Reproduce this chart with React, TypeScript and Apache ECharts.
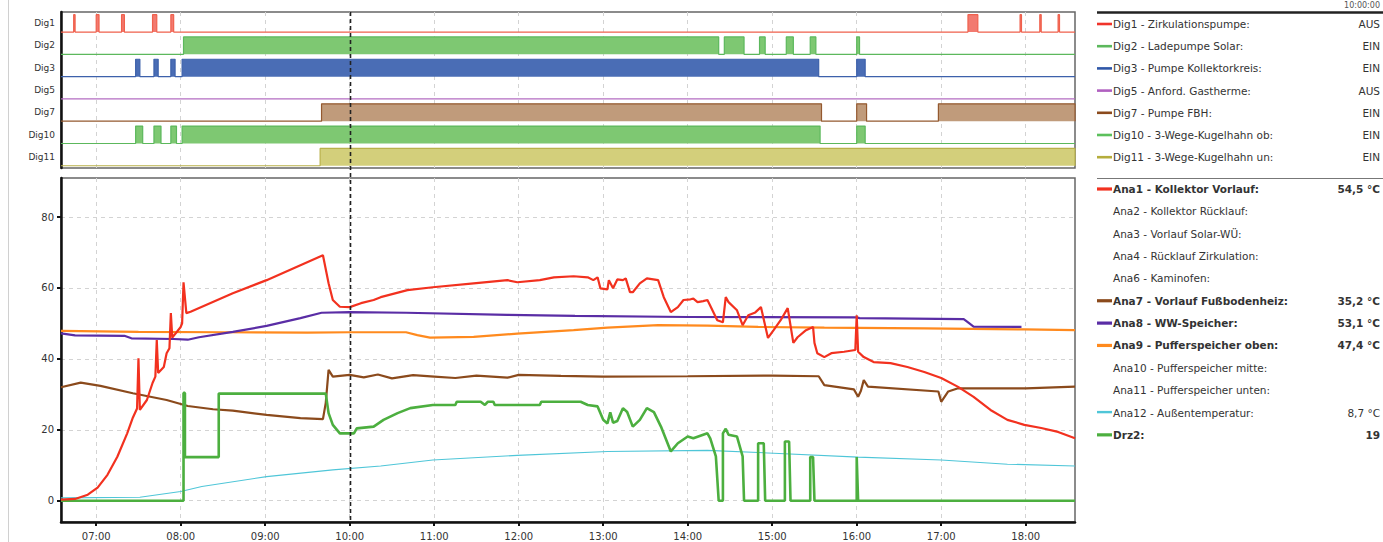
import React, { useEffect, useRef } from "react";
import * as echarts from "echarts";

// ---------- axis setup ----------
const X_START = "06:35";
const X_END = "18:35";
const HOUR_TICKS = [7, 8, 9, 10, 11, 12, 13, 14, 15, 16, 17, 18];
const Y_TICKS = [0, 20, 40, 60, 80];
const Y_MIN = -6;
const Y_MAX = 91;
const CURSOR_TIME = "10:00";
const CURSOR_LABEL = "10:00:00";

// ---------- digital channels ----------
const digNames = ["Dig1", "Dig2", "Dig3", "Dig5", "Dig7", "Dig10", "Dig11"];
const digLegend = [
  "Dig1 - Zirkulationspumpe:",
  "Dig2 - Ladepumpe Solar:",
  "Dig3 - Pumpe Kollektorkreis:",
  "Dig5 - Anford. Gastherme:",
  "Dig7 - Pumpe FBH:",
  "Dig10 - 3-Wege-Kugelhahn ob:",
  "Dig11 - 3-Wege-Kugelhahn un:",
];
const digStates = ["AUS", "EIN", "EIN", "AUS", "EIN", "EIN", "EIN"];

const dig1On = [["06:44", "06:45"], ["07:00", "07:02"], ["07:18", "07:20"], ["07:40", "07:43"], ["07:53", "07:55"], ["17:19", "17:26"], ["17:56", "17:57"], ["18:10", "18:11"], ["18:23", "18:24"]];
const dig2On = [["08:02", "14:22"], ["14:26", "14:40"], ["14:51", "14:55"], ["15:10", "15:15"], ["15:27", "15:31"], ["16:00", "16:02"]];
const dig3On = [["07:28", "07:31"], ["07:41", "07:44"], ["07:53", "07:56"], ["08:01", "15:33"], ["16:00", "16:06"]];
const dig5On: string[][] = [];
const dig7On = [["09:40", "15:35"], ["16:00", "16:07"], ["16:58", "18:35"]];
const dig10On = [["07:28", "07:33"], ["07:41", "07:46"], ["07:53", "07:57"], ["08:01", "15:34"], ["16:00", "16:06"]];
const dig11On = [["09:39", "18:35"]];

// ---------- analog channels ----------
const ana1: [string, number][] = [
  ["06:35", 0.3], ["06:45", 0.5], ["06:54", 1.7], ["07:01", 3.7], ["07:08", 7.3], ["07:15", 12.4], ["07:22", 19], ["07:26", 23.4],
  ["07:29", 26], ["07:30", 40.2], ["07:31", 25.6], ["07:36", 28.4], ["07:40", 33.2], ["07:42", 35], ["07:43", 45.3], ["07:44", 36],
  ["07:48", 37.7], ["07:50", 41.6], ["07:52", 43], ["07:53", 52.9], ["07:54", 46], ["08:00", 49], ["08:01", 50], ["08:02", 61.6],
  ["08:04", 52.9], ["08:07", 53.3], ["08:37", 58.5], ["09:01", 62.2], ["09:25", 66.4], ["09:41", 69.2], ["09:45", 61.3], ["09:48", 56.6],
  ["09:53", 54.7], ["10:00", 54.6], ["10:08", 55.7], ["10:17", 56.6], ["10:22", 57.4], ["10:41", 59.4], ["10:59", 60.2], ["11:28", 61.3],
  ["11:52", 62.2], ["11:59", 61.6], ["12:15", 62.2], ["12:25", 63], ["12:39", 63.3], ["12:49", 63], ["12:53", 62.2], ["12:56", 63],
  ["12:58", 59.9], ["13:03", 59.6], ["13:04", 62.2], ["13:07", 59.9], ["13:10", 62.4], ["13:14", 62.2], ["13:16", 62.7], ["13:19", 58.8],
  ["13:21", 58.8], ["13:26", 61.3], ["13:31", 62.7], ["13:39", 62.2], ["13:43", 57.4], ["13:48", 53.2], ["13:53", 54.6], ["13:57", 56.6],
  ["14:02", 56.8], ["14:04", 57], ["14:07", 56], ["14:11", 56.3], ["14:14", 56.6], ["14:16", 55], ["14:21", 50.9], ["14:25", 50.3],
  ["14:27", 57.4], ["14:29", 56], ["14:35", 53.7], ["14:39", 49.5], ["14:43", 52.3], ["14:48", 53.1], ["14:52", 54.6], ["14:57", 45.9],
  ["15:01", 48.1], ["15:06", 50.9], ["15:11", 54.3], ["15:15", 44.5], ["15:18", 46.1], ["15:24", 48.1], ["15:29", 49], ["15:30", 44.5],
  ["15:32", 41.6], ["15:37", 40.5], ["15:42", 41.6], ["15:51", 42], ["15:59", 42.5], ["16:00", 52.3], ["16:01", 42], ["16:05", 40.5],
  ["16:12", 39.1], ["16:24", 38.8], ["16:36", 37.7], ["16:48", 36.3], ["17:00", 34.6], ["17:12", 32.1], ["17:23", 29.3], ["17:35", 25.6],
  ["17:47", 22.8], ["17:59", 21.4], ["18:11", 20.5], ["18:23", 19.4], ["18:35", 17.6],
];
const ana7: [string, number][] = [
  ["06:35", 32.0], ["06:49", 33.3], ["07:03", 32.4], ["07:26", 30.3], ["07:50", 28.4], ["08:05", 26.7], ["08:23", 25.8], ["08:37", 25.4],
  ["09:01", 24.2], ["09:25", 23.3], ["09:41", 23.0], ["09:43", 27.6], ["09:45", 36.9], ["09:48", 35.0], ["10:00", 35.5], ["10:10", 34.8],
  ["10:20", 35.6], ["10:30", 34.5], ["10:45", 35.4], ["11:00", 35.0], ["11:15", 34.6], ["11:30", 35.3], ["11:52", 34.7], ["12:00", 35.5],
  ["12:30", 35.2], ["13:00", 35.0], ["14:00", 35.1], ["15:00", 35.3], ["15:33", 35.1], ["15:37", 32.6], ["15:58", 31.4], ["16:01", 29.3],
  ["16:03", 31.0], ["16:05", 34.0], ["16:08", 32.2], ["16:58", 30.8], ["17:00", 27.9], ["17:05", 30.8], ["17:12", 31.7], ["18:00", 31.7],
  ["18:35", 32.2],
];
const ana8: [string, number][] = [
  ["06:35", 47.2], ["06:45", 46.6], ["07:20", 46.5], ["07:25", 45.8], ["07:55", 45.6], ["08:05", 45.4], ["08:13", 46.1], ["08:37", 47.6],
  ["09:01", 49.3], ["09:25", 51.5], ["09:40", 53], ["10:00", 53.2], ["10:40", 53], ["11:52", 52.4], ["12:40", 52.1], ["14:00", 51.8],
  ["16:00", 51.7], ["16:02", 51.5], ["17:16", 51.2], ["17:20", 50], ["17:23", 49.1], ["17:57", 49],
];
const ana9: [string, number][] = [
  ["06:35", 47.9], ["07:30", 47.6], ["08:30", 47.5], ["09:30", 47.4], ["10:00", 47.5], ["10:40", 47.5], ["10:48", 46.7], ["10:57", 46.0],
  ["11:28", 46.2], ["11:59", 47.1], ["12:39", 48.1], ["13:03", 48.8], ["13:39", 49.5], ["14:14", 49.4], ["14:50", 49.0], ["15:37", 48.8],
  ["16:48", 48.6], ["17:59", 48.3], ["18:35", 48.1],
];
const ana12: [string, number][] = [
  ["06:35", 0.8], ["07:31", 1.0], ["08:00", 2.6], ["08:15", 4.0], ["09:01", 6.8], ["09:48", 8.7], ["10:22", 9.8], ["10:59", 11.5],
  ["11:59", 12.8], ["13:03", 13.9], ["14:14", 14.2], ["15:01", 13.4], ["16:01", 12.3], ["17:00", 11.5], ["17:47", 10.3], ["18:35", 9.8],
];
const drz2: [string, number][] = [
  ["06:35", 0], ["08:02", 0], ["08:02", 30.4], ["08:03", 30.4], ["08:03", 12.3], ["08:27", 12.3], ["08:27", 30.2], ["09:43", 30.2],
  ["09:45", 24.7], ["09:48", 21.4], ["09:53", 19], ["10:03", 19], ["10:05", 20.4], ["10:17", 20.9], ["10:24", 22.8], ["10:34", 24.7],
  ["10:43", 26.1], ["10:59", 27], ["11:15", 27], ["11:16", 27.9], ["11:33", 27.9], ["11:36", 27], ["11:38", 27.9], ["11:42", 27.9],
  ["11:43", 27], ["12:15", 27], ["12:16", 27.9], ["12:44", 27.9], ["12:49", 27], ["12:56", 26.6], ["13:00", 22.8], ["13:03", 21.8],
  ["13:05", 24.9], ["13:07", 22], ["13:10", 22.5], ["13:14", 26.1], ["13:17", 25], ["13:21", 20.9], ["13:26", 22.8], ["13:31", 26.1],
  ["13:36", 25], ["13:41", 20.9], ["13:48", 13.9], ["13:53", 16.2], ["14:00", 18.1], ["14:04", 17.6], ["14:11", 18.6], ["14:14", 19],
  ["14:16", 17.6], ["14:20", 12.5], ["14:22", 0], ["14:25", 0], ["14:25", 19], ["14:27", 20.3], ["14:29", 18.6], ["14:35", 18.1],
  ["14:39", 12.5], ["14:40", 0], ["14:50", 0], ["14:50", 16.2], ["14:54", 16.2], ["14:55", 0], ["15:09", 0], ["15:09", 16.7],
  ["15:12", 16.7], ["15:13", 0], ["15:27", 0], ["15:27", 12.3], ["15:29", 12.3], ["15:30", 0], ["16:00", 0], ["16:00", 12.3],
  ["16:01", 0], ["18:35", 0],
];

const anaLegend = [
  { text: "Ana1 - Kollektor Vorlauf:", value: "54,5 °C", color: "#f2311f", bold: true },
  { text: "Ana2 - Kollektor Rücklauf:", value: "", color: "", bold: false },
  { text: "Ana3 - Vorlauf Solar-WÜ:", value: "", color: "", bold: false },
  { text: "Ana4 - Rücklauf Zirkulation:", value: "", color: "", bold: false },
  { text: "Ana6 - Kaminofen:", value: "", color: "", bold: false },
  { text: "Ana7 - Vorlauf Fußbodenheiz:", value: "35,2 °C", color: "#8b4a1c", bold: true },
  { text: "Ana8 - WW-Speicher:", value: "53,1 °C", color: "#5a2da5", bold: true },
  { text: "Ana9 - Pufferspeicher oben:", value: "47,4 °C", color: "#ff8a1e", bold: true },
  { text: "Ana10 - Pufferspeicher mitte:", value: "", color: "", bold: false },
  { text: "Ana11 - Pufferspeicher unten:", value: "", color: "", bold: false },
  { text: "Ana12 - Außentemperatur:", value: "8,7 °C", color: "#4fc6d8", bold: false },
  { text: "Drz2:", value: "19", color: "#4caf3f", bold: true },
];

// ---------- styles ----------
const FONT = "'DejaVu Sans', 'Liberation Sans', Arial, sans-serif";
const digLineColor = ["#f0604c", "#5cb85c", "#3d61ab", "#b36cc2", "#94592f", "#5cb85c", "#b9b14a"];
const digFillColor = ["#f27a70", "#7ec872", "#4a6db5", "#b36cc2", "#c09b7b", "#7ec872", "#d3cf7b"];
const digLegendColor = ["#f0332a", "#5cb85c", "#2f57a8", "#b060c0", "#8b4a1c", "#5cc05c", "#b5ad3c"];

const toH = (s: string) => {
  const [h, m] = s.split(":").map(Number);
  return h + m / 60;
};

function digitalSeries(intervals: string[][], row: number) {
  const base = 6 - row + 0.1;
  const top = 6 - row + 0.88;
  const pts: number[][] = [[toH(X_START), base]];
  intervals.forEach(([s, e]) => {
    pts.push([toH(s), base], [toH(s), top], [toH(e), top], [toH(e), base]);
  });
  pts.push([toH(X_END), base]);
  return {
    type: "line",
    name: digNames[row],
    xAxisIndex: 0,
    yAxisIndex: 0,
    data: pts,
    showSymbol: false,
    symbol: "none",
    lineStyle: { color: digLineColor[row], width: 1.2 },
    areaStyle: { color: digFillColor[row], opacity: 1, origin: base },
    silent: true,
  };
}

function analogSeries(name: string, data: [string, number][], color: string, width: number) {
  return {
    type: "line",
    name,
    xAxisIndex: 1,
    yAxisIndex: 2,
    data: data.map(([t, v]) => [toH(t), v]),
    showSymbol: false,
    symbol: "none",
    lineStyle: { color, width },
    silent: true,
  };
}

export default function App() {
  const ref = useRef<HTMLDivElement>(null);
  useEffect(() => {
    if (!ref.current) return;
    const chart = echarts.init(ref.current, undefined, { renderer: "svg" });

    const hourFmt = (v: number) => (v < 10 ? "0" : "") + Math.round(v) + ":00";
    const legendX = 1097;
    const textX = 1113;
    const valueX = 1380;
    const graphics: any[] = [];
    graphics.push({ type: "line", shape: { x1: 8.5, y1: 0, x2: 8.5, y2: 542 }, style: { stroke: "#d0d0d0", lineWidth: 1 } });
    graphics.push({
      type: "text", x: 1380, y: 1,
      style: { text: CURSOR_LABEL, fill: "#555", fontSize: 8, fontFamily: FONT, align: "right", verticalAlign: "top", textAlign: "right", textVerticalAlign: "top" },
    });
    graphics.push({ type: "line", shape: { x1: legendX, y1: 12.5, x2: 1383, y2: 12.5 }, style: { stroke: "#222", lineWidth: 2.5 } });
    graphics.push({ type: "line", shape: { x1: legendX, y1: 178.5, x2: 1383, y2: 178.5 }, style: { stroke: "#777", lineWidth: 1.2 } });
    digLegend.forEach((t, i) => {
      const y = 24 + i * 22.2;
      graphics.push({ type: "rect", shape: { x: legendX, y: y - 1.3, width: 15, height: 2.6 }, style: { fill: digLegendColor[i] } });
      graphics.push({
        type: "text", x: textX, y,
        style: { text: t, fill: "#333", fontSize: 10.5, fontFamily: FONT, verticalAlign: "middle", textVerticalAlign: "middle" },
      });
      graphics.push({
        type: "text", x: valueX, y,
        style: { text: digStates[i], fill: "#333", fontSize: 10.5, fontFamily: FONT, align: "right", textAlign: "right", verticalAlign: "middle", textVerticalAlign: "middle" },
      });
    });
    anaLegend.forEach((a, i) => {
      const y = 189 + i * 22.35;
      if (a.color) {
        graphics.push({ type: "rect", shape: { x: legendX, y: y - 1.6, width: 15, height: a.bold ? 3.2 : 2.4 }, style: { fill: a.color } });
      }
      graphics.push({
        type: "text", x: textX, y,
        style: { text: a.text, fill: "#333", fontSize: 10.5, fontWeight: a.bold ? "bold" : "normal", fontFamily: FONT, verticalAlign: "middle", textVerticalAlign: "middle" },
      });
      if (a.value) {
        graphics.push({
          type: "text", x: valueX, y,
          style: { text: a.value, fill: "#333", fontSize: 10.5, fontWeight: a.bold ? "bold" : "normal", fontFamily: FONT, align: "right", textAlign: "right", verticalAlign: "middle", textVerticalAlign: "middle" },
        });
      }
    });

    const digData = [dig1On, dig2On, dig3On, dig5On, dig7On, dig10On, dig11On];
    const series: any[] = digData.map((iv, i) => digitalSeries(iv, i));
    series.push(analogSeries("Ana12", ana12, "#4fc6d8", 1.1));
    series.push(analogSeries("Ana9", ana9, "#ff8a1e", 2.2));
    series.push(analogSeries("Ana8", ana8, "#5a2da5", 2.2));
    series.push(analogSeries("Ana7", ana7, "#8b4a1c", 2.2));
    series.push(analogSeries("Drz2", drz2, "#4caf3f", 2.6));
    series.push(analogSeries("Ana1", ana1, "#f2311f", 2.2));

    const dashedGrid = { show: true, lineStyle: { color: "#d3d3d3", type: [4, 4], width: 1 } };

    const option: any = {
      animation: false,
      backgroundColor: "#fff",
      textStyle: { fontFamily: FONT },
      grid: [
        { left: 61, top: 12, width: 1014, height: 156, show: true, borderColor: "#666", borderWidth: 1.5, backgroundColor: "#fff" },
        { left: 61, top: 178, width: 1014, height: 344, show: true, borderColor: "#666", borderWidth: 1.5, backgroundColor: "#fff" },
      ],
      xAxis: [
        {
          type: "value", gridIndex: 0, min: toH(X_START), max: toH(X_END),
          axisLine: { show: false }, axisLabel: { show: false },
          axisTick: { show: false, customValues: HOUR_TICKS },
          splitLine: dashedGrid,
        },
        {
          type: "value", gridIndex: 1, min: toH(X_START), max: toH(X_END),
          axisLine: { show: true, onZero: false, lineStyle: { color: "#111", width: 2.5 } },
          axisTick: { show: true, customValues: HOUR_TICKS, length: 4, lineStyle: { color: "#111", width: 2 } },
          axisLabel: { show: true, customValues: HOUR_TICKS, formatter: hourFmt, color: "#333", fontSize: 10, margin: 9, fontFamily: FONT },
          splitLine: dashedGrid,
        },
      ],
      yAxis: [
        { type: "value", gridIndex: 0, min: 0, max: 7, show: false },
        {
          type: "category", gridIndex: 0, position: "left", data: digNames.slice().reverse(),
          axisLine: { show: true, lineStyle: { color: "#111", width: 2.5 } },
          axisTick: { show: false },
          axisLabel: { color: "#333", fontSize: 9, margin: 6, fontFamily: FONT },
          splitLine: { show: false },
        },
        {
          type: "value", gridIndex: 1, position: "left", min: Y_MIN, max: Y_MAX,
          axisLine: { show: true, onZero: false, lineStyle: { color: "#111", width: 2.5 } },
          axisTick: { show: true, customValues: Y_TICKS, length: 4, lineStyle: { color: "#111", width: 2 } },
          axisLabel: { show: true, customValues: Y_TICKS, color: "#333", fontSize: 10, margin: 7, fontFamily: FONT },
          splitLine: dashedGrid,
        },
      ],
      series,
      graphic: graphics,
    };
    chart.setOption(option);

    // cursor line through both panels at the library's pixel for CURSOR_TIME
    const cx = chart.convertToPixel({ xAxisIndex: 1 } as any, toH(CURSOR_TIME)) as number;
    const yTop = chart.convertToPixel({ yAxisIndex: 0 } as any, 7) as number;
    const yBot = chart.convertToPixel({ yAxisIndex: 2 } as any, Y_MIN) as number;
    const xr = Math.round(cx) + 0.5;
    chart.setOption({
      graphic: [
        ...graphics,
        { type: "line", shape: { x1: xr, y1: yTop, x2: xr, y2: yBot }, style: { stroke: "#222", lineWidth: 1.6, lineDash: [4, 3] }, z: 100 },
      ],
    });

    return () => chart.dispose();
  }, []);
  return <div ref={ref} style={{ position: "fixed", left: 0, top: 0, width: 1383, height: 542 }} />;
}
